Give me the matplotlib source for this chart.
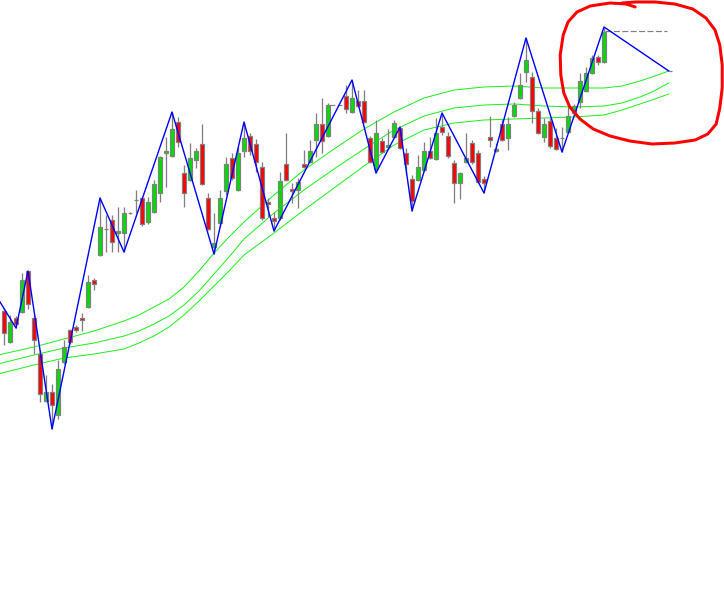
import numpy as np
import matplotlib
matplotlib.use("Agg")
import matplotlib.pyplot as plt

nan = np.nan

opens = [289, 258, 282, 288, 329, 282, 246, 199, 208, 185, 238, 270, 273, 282, 293, 320,
         345, 371, 380, 367, 367, 387, 400, 402, 378, 388, 407, 447, 444, 478, 427, 420,
         440, 456, 402, 353, 377, 409, 442, 410, 449, 464, 456, 433, 398, 382, 382, 436,
         411, 410, 436, 438, 460, 476, 464, nan, nan, 504, 488, 499, 499, 462, 431, 459,
         453, 463, 472, 447, 421, 420, 430, 449, 441, 473, 464, 437, 417, 438, 457, 447,
         421, 463, 449, 476, 462, 484, 502, 528, 523, 489, 463, 479, 462, 462, 468, 487,
         498, 509, 527, 543, 538]
highs = [292, 285, 284, 327, 329, 285, 250, 225, 216, 240, 260, 271, 275, 287, 325, 322,
         402, 385, 385, 393, 393, 388, 410, 403, 403, 420, 444, 463, 488, 483, 435, 457,
         452, 476, 407, 387, 410, 443, 447, 453, 478, 467, 461, 438, 402, 388, 428, 467,
         417, 422, 450, 460, 487, 502, 497, nan, nan, 515, 520, 510, 510, 464, 480, 462,
         471, 480, 473, 452, 425, 445, 458, 463, 482, 487, 468, 440, 428, 467, 460, 450,
         424, 484, 457, 481, 483, 498, 527, 562, 528, 492, 482, 482, 472, 473, 493, 496,
         527, 533, 545, 545, 573]
lows = [255, 257, 272, 287, 291, 246, 198, 198, 171, 181, 236, 256, 268, 269, 292, 310,
        344, 348, 348, 348, 348, 386, 387, 374, 376, 387, 398, 413, 443, 453, 393, 419,
        432, 415, 370, 346, 373, 405, 420, 409, 443, 445, 428, 380, 383, 369, 380, 419,
        397, 392, 432, 437, 443, 447, 463, nan, nan, 487, 487, 493, 477, 437, 427, 447,
        451, 462, 451, 425, 389, 419, 429, 441, 440, 465, 442, 397, 401, 437, 436, 417,
        407, 453, 448, 459, 450, 483, 501, 518, 477, 466, 458, 452, 450, 448, 467, 486,
        492, 508, 526, 535, 537]
closes = [267, 278, 276, 320, 296, 260, 206, 208, 195, 231, 253, 258, 270, 280, 318, 316,
          373, 371, 358, 369, 387, 387, 400, 376, 398, 416, 443, 449, 471, 458, 407, 442,
          449, 416, 371, 357, 402, 436, 422, 447, 462, 449, 438, 382, 396, 379, 419, 420,
          409, 418, 433, 449, 476, 459, 495, nan, nan, 491, 502, 494, 478, 438, 467, 448,
          455, 477, 452, 436, 399, 433, 449, 442, 467, 468, 444, 417, 427, 442, 438, 418,
          417, 460, 451, 460, 476, 495, 515, 540, 489, 467, 476, 454, 451, 462, 484, 494,
          519, 527, 542, 538, 568]

# zigzag pivots (bar index, price)
zz_idx = [-2, 2, 4, 8, 16, 20, 28, 35, 40, 45, 58, 62, 66, 68, 73, 80, 87, 93, 100, 110.8]
zz_val = [311, 272, 329, 171, 402, 348, 488, 346, 478, 369, 520, 427, 473, 389, 487, 407,
          562, 448, 573, 529]

# shifted envelope bands
band_idx = [-1, 5, 10, 15, 20, 22.5, 25, 27.5, 30, 32.5, 35, 37.5, 40, 45, 50, 55, 60, 65,
            70, 75, 80, 85, 90, 95, 100, 103, 106, 108, 110.8]
band_top = [245, 253, 261, 269, 279, 285, 293, 301, 313, 329, 347, 363, 378, 405, 430, 451,
            471, 488, 502, 510, 513, 514, 512, 512, 512, 514, 519, 523, 529]
band_mid = [236, 245, 252, 257, 264, 269, 276, 284, 295, 309, 326, 343, 361, 387, 410, 431,
            451, 470, 484, 492, 495, 496, 494, 493, 494, 497, 503, 508, 517]
band_bot = [226, 235, 242, 246, 251, 257, 264, 273, 285, 299, 314, 329, 345, 367, 390, 412,
            434, 455, 470, 477, 480, 481, 482, 483, 485, 490, 496, 500, 506]

# hand drawn marker around the last swing
circ_x = [105.2, 103.7, 101.0, 97.7, 95.5, 94.0, 93.2, 92.7, 92.8, 93.3, 94.3, 96.0, 98.2,
          101.0, 104.3, 108.0, 111.8, 115.2, 117.3, 118.7, 119.3, 119.7, 119.7, 119.3, 118.5,
          117.0, 114.8, 111.8, 108.5, 105.2, 103.0]
circ_y = [593, 596, 597, 594, 588, 578, 565, 545, 525, 507, 493, 481, 471, 464, 459, 456,
          457, 460, 466, 476, 492, 512, 535, 555, 570, 582, 591, 596, 598, 598, 597]

o = np.array(opens, float)
h = np.array(highs, float)
l = np.array(lows, float)
c = np.array(closes, float)
x = np.arange(len(o))
ok = ~np.isnan(o)

px = 0.72
fig = plt.figure(figsize=(7.24, 5.96), dpi=100)
ax = fig.add_axes([0, 0, 1, 1])
ax.set_xlim(-0.667, 120)
ax.set_ylim(4, 600)
ax.axis("off")

for b in (band_top, band_mid, band_bot):
    ax.plot(band_idx, b, color="#22ee22", lw=1.0 * px, zorder=2)

ax.vlines(x[ok], l[ok], h[ok], color="#808080", lw=1.3 * px, zorder=3)
cols = np.where(c >= o, "#00dd00", "#ff0000")
ax.bar(x[ok], (c - o)[ok], bottom=o[ok], width=0.68, color=cols[ok],
       edgecolor="#808080", linewidth=1.2 * px, zorder=4)

ax.plot(zz_idx, zz_val, color="#0000ff", lw=1.4 * px, zorder=5)

# gap marker and last close level
ax.hlines(495, 54.3, 56.6, color="#808080", lw=1.2 * px, linestyles=(0, (4, 2)), zorder=3)
ax.hlines(c[100] + 1, 100.2, 110.5, color="#808080", lw=1.2 * px, linestyles=(0, (5, 2)), zorder=3)
ax.hlines(zz_val[-1], 110.8, 111.3, color="#808080", lw=1.2 * px, zorder=3)

ax.plot(circ_x, circ_y, color="#ff0000", lw=3.0 * px, solid_capstyle="round",
        solid_joinstyle="round", zorder=6)

fig.savefig("out.png", dpi=100)
